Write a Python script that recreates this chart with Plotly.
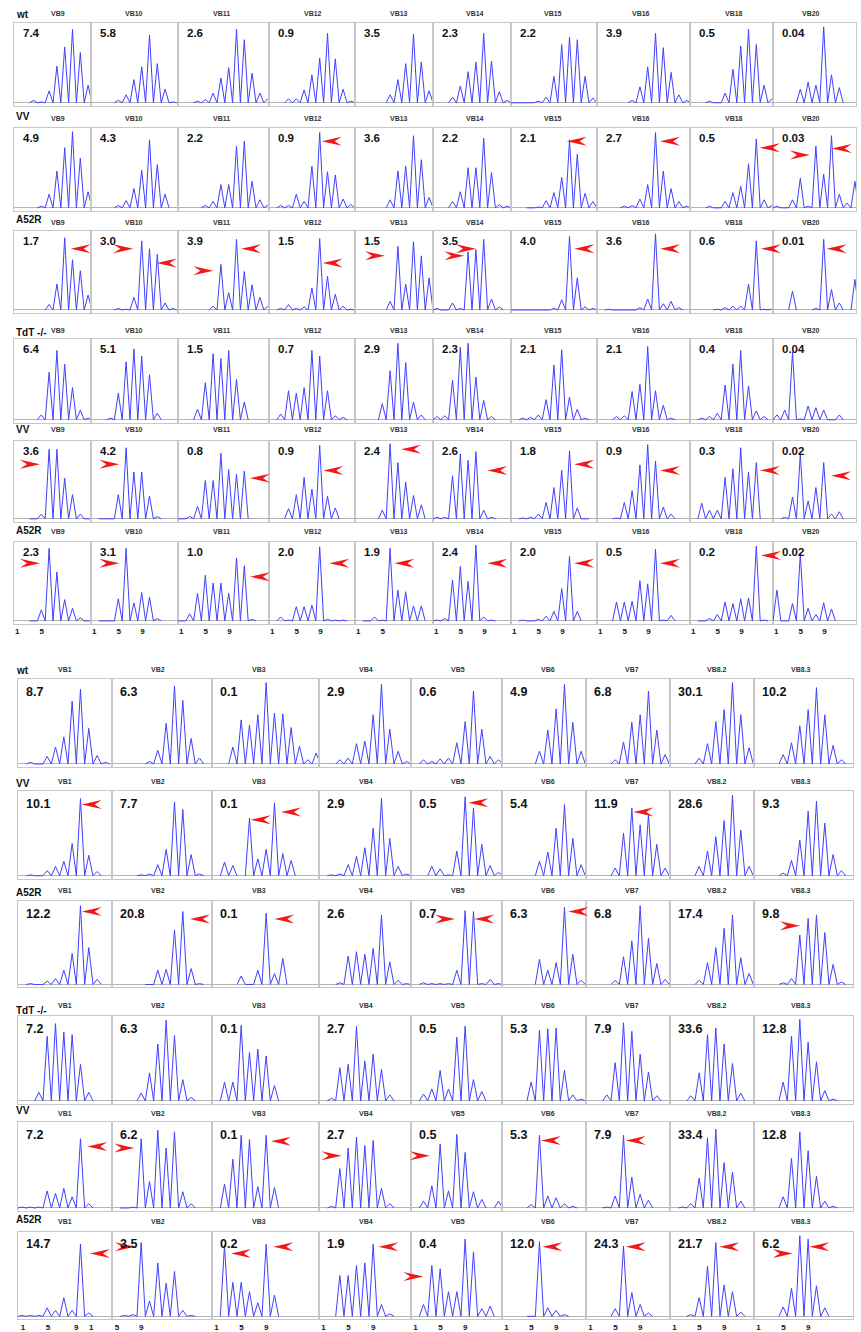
import plotly.graph_objects as go

W, H = 861, 1332

# ---------------- labels ----------------
TOP_VB = ["VB9", "VB10", "VB11", "VB12", "VB13", "VB14", "VB15", "VB16", "VB18", "VB20"]
BOTTOM_VB = ["VB1", "VB2", "VB3", "VB4", "VB5", "VB6", "VB7", "VB8.2", "VB8.3"]
ROW_NAMES = ["wt", "VV", "A52R", "TdT -/-", "VV", "A52R"]

# ---------------- percentages ----------------
top_wt_pct = ["7.4", "5.8", "2.6", "0.9", "3.5", "2.3", "2.2", "3.9", "0.5", "0.04"]
top_vv_pct = ["4.9", "4.3", "2.2", "0.9", "3.6", "2.2", "2.1", "2.7", "0.5", "0.03"]
top_a52r_pct = ["1.7", "3.0", "3.9", "1.5", "1.5", "3.5", "4.0", "3.6", "0.6", "0.01"]
top_tdt_pct = ["6.4", "5.1", "1.5", "0.7", "2.9", "2.3", "2.1", "2.1", "0.4", "0.04"]
top_tdt_vv_pct = ["3.6", "4.2", "0.8", "0.9", "2.4", "2.6", "1.8", "0.9", "0.3", "0.02"]
top_tdt_a52r_pct = ["2.3", "3.1", "1.0", "2.0", "1.9", "2.4", "2.0", "0.5", "0.2", "0.02"]

bot_wt_pct = ["8.7", "6.3", "0.1", "2.9", "0.6", "4.9", "6.8", "30.1", "10.2"]
bot_vv_pct = ["10.1", "7.7", "0.1", "2.9", "0.5", "5.4", "11.9", "28.6", "9.3"]
bot_a52r_pct = ["12.2", "20.8", "0.1", "2.6", "0.7", "6.3", "6.8", "17.4", "9.8"]
bot_tdt_pct = ["7.2", "6.3", "0.1", "2.7", "0.5", "5.3", "7.9", "33.6", "12.8"]
bot_tdt_vv_pct = ["7.2", "6.2", "0.1", "2.7", "0.5", "5.3", "7.9", "33.4", "12.8"]
bot_tdt_a52r_pct = ["14.7", "3.5", "0.2", "1.9", "0.4", "12.0", "24.3", "21.7", "6.2"]

# ---------------- spectratype peak heights (fraction of panel height, per CDR3 slot) ----------------
N = None
top_wt_peaks = [
    [N, N, 0.03, 0.01, 0.15, 0.46, 0.70, 0.92, 0.63, 0.22],
    [N, N, N, 0.03, 0.10, 0.29, 0.45, 0.85, 0.49, 0.17, 0.01],
    [N, N, 0.02, 0.04, 0.12, 0.31, 0.44, 0.92, 0.79, 0.37, 0.12, 0.05],
    [N, N, 0.05, 0.05, 0.16, 0.35, 0.56, 0.87, 0.55, 0.17, 0.02],
    [N, N, N, N, 0.10, 0.29, 0.49, 0.86, 0.51, 0.15],
    [N, N, 0.07, 0.21, 0.39, 0.51, 0.87, 0.52, 0.14, 0.03],
    [0, 0, 0, 0.02, 0.07, 0.33, 0.73, 0.82, 0.79, 0.33, 0.06],
    [N, N, N, N, 0.03, 0.20, 0.45, 0.87, 0.69, 0.38, 0.10, 0.03],
    [N, N, 0.02, 0, 0.12, 0.42, 0.71, 0.92, 0.73, 0.22, 0.05],
    [N, N, N, 0.17, 0.26, 0.22, 0.95, 0.35, 0.19],
]
top_vv_peaks = [
    [N, N, N, 0.02, 0.17, 0.46, 0.75, 0.95, 0.62, 0.20],
    [N, N, N, 0.03, 0.09, 0.24, 0.47, 0.85, 0.54, 0.17],
    [N, N, N, 0.03, 0.08, 0.29, 0.29, 0.77, 0.83, 0.33, 0.10, 0.03],
    [N, 0.03, 0.03, 0.17, 0.08, 0.52, 0.94, 0.45, 0.41, 0.11, 0.04],
    [N, N, N, N, 0.10, 0.46, 0.52, 0.90, 0.60, 0.13],
    [N, N, 0.08, 0.20, 0.50, 0.50, 0.87, 0.44, 0.04, 0.02],
    [N, N, 0, 0.01, 0.09, 0.19, 0.38, 0.85, 0.67, 0.18, 0.08],
    [N, N, N, 0.02, 0.03, 0.11, 0.29, 0.94, 0.46, 0.24, 0.08, 0.02],
    [N, N, 0.02, 0, 0.08, 0.19, 0.27, 0.55, 0.86, 0.10, 0.03],
    [0.02, 0, 0.10, 0.37, 0.02, 0.77, 0.42, 0.90, 0.17, 0.06, 0.33],
]
top_a52r_peaks = [
    [N, N, N, N, 0.07, 0.33, 0.92, 0.64, 0.50, 0.19],
    [N, N, N, 0.02, 0.01, 0.16, 0.88, 0.78, 0.71, 0.09, 0.02],
    [N, N, N, N, 0.05, 0.58, 0.22, 0.90, 0.49, 0.32, 0.16, 0.05],
    [N, 0.02, 0.07, 0.02, 0.04, 0.28, 0.91, 0.43, 0.20, 0.05, 0.01],
    [N, N, N, N, 0.11, 0.81, 0.33, 0.87, 0.69, 0.41],
    [0.02, 0, 0.09, 0.02, 0.74, 0.77, 0.90, 0.14, 0.04],
    [0, 0, 0, 0, 0, 0.02, 0.13, 0.94, 0.41, 0.04, 0.02],
    [N, 0.01, 0, 0, 0, 0.03, 0.14, 0.97, 0.08, 0.11, 0.03],
    [N, N, N, 0.01, 0.03, 0.05, 0.05, 0.33, 0.88, 0.01, 0.01],
    [N, N, 0.24, N, N, 0.02, 0.90, 0.26, 0.09, N, 0.39],
]
top_tdt_peaks = [
    [N, N, N, 0.06, 0.59, 0.86, 0.69, 0.40, 0.12, 0.02],
    [N, N, 0.02, 0.33, 0.72, 0.88, 0.79, 0.56, 0.08],
    [N, N, 0.13, 0.46, 0.82, 0.76, 0.86, 0.50, 0.22],
    [N, 0.07, 0.36, 0.33, 0.40, 0.86, 0.79, 0.36, 0.05, 0.03],
    [N, N, N, 0.20, 0.61, 0.95, 0.71, 0.22, 0.06],
    [0.04, 0.05, 0.49, 0.90, 0.95, 0.53, 0.24, 0.04],
    [N, 0.02, 0.03, 0.06, 0.25, 0.68, 0.87, 0.28, 0.13, 0.02],
    [N, N, 0.04, 0.05, 0.35, 0.44, 0.91, 0.36, 0.18, 0.02],
    [N, 0.02, 0.04, 0.08, 0.43, 0.69, 0.86, 0.42, 0.11, 0.04],
    [0.06, 0.12, 0.84, 0.01, 0.17, 0.15, 0.12, 0, 0.06],
]
top_tdt_vv_peaks = [
    [N, N, 0, 0.06, 0.89, 0.89, 0.52, 0.31, 0.06, 0],
    [N, 0, 0, 0.31, 0.91, 0.60, 0.60, 0.29, 0.03],
    [0, 0.03, 0.16, 0.49, 0.49, 0.84, 0.63, 0.57, 0.61],
    [N, N, 0.13, 0.31, 0.53, 0.38, 0.94, 0.29, 0.14],
    [N, N, N, 0.11, 0.96, 0.72, 0.47, 0.30, 0.18],
    [0.02, 0.02, 0.55, 0.83, 0.75, 0.86, 0.11, 0.02],
    [N, 0.01, 0.02, 0.06, 0.21, 0.40, 0.62, 0.87, 0.14, 0],
    [N, N, 0.01, 0.21, 0.36, 0.69, 0.95, 0.74, 0.15, 0.06],
    [N, 0.20, 0.11, 0.11, 0.53, 0.64, 0.91, 0.60, 0.72],
    [N, 0.02, 0.28, 0.83, 0.23, 0.40, 0.72, 0.06, 0.09],
]
top_tdt_a52r_peaks = [
    [N, N, 0, 0.14, 0.92, 0.62, 0.27, 0.16, 0.04, 0],
    [N, 0, 0, 0.28, 0.92, 0.23, 0.36, 0.30, 0.03],
    [0, 0.09, 0.35, 0.58, 0.48, 0.48, 0.35, 0.80, 0.70, 0.02],
    [N, 0.05, 0.01, 0.18, 0.18, 0.20, 0.94, 0.02, 0.01, 0.01],
    [N, 0, 0.05, 0.01, 0.92, 0.39, 0.37, 0.19, 0.19],
    [0.01, 0.03, 0.52, 0.69, 0.50, 0.96, 0.05, 0.01],
    [N, 0.01, 0, 0.02, 0.06, 0.12, 0.41, 0.82, 0.12],
    [N, N, 0.24, 0.24, 0.25, 0.51, 0.47, 0.91, 0.01, 0.07],
    [N, 0, 0.03, 0.08, 0.24, 0.22, 0.28, 0.29, 0.95, 0.01],
    [0.39, 0, 0.22, 0.85, 0.16, 0.08, 0.23, 0.15],
]

bot_wt_peaks = [
    [N, 0.02, 0, 0.09, 0.20, 0.32, 0.74, 0.88, 0.42, 0.10, 0.02],
    [N, N, N, N, 0.03, 0.16, 0.48, 0.92, 0.75, 0.30, 0.07],
    [N, N, 0.20, 0.52, 0.46, 0.58, 0.96, 0.60, 0.59, 0.43, 0.21, 0.05, 0.13],
    [N, N, 0.05, 0.07, 0.24, 0.27, 0.58, 0.94, 0.41, 0.15, 0.03],
    [N, 0.05, 0.03, 0.06, 0.07, 0.25, 0.50, 0.86, 0.41, 0.09, 0.05],
    [N, N, N, N, 0.15, 0.40, 0.65, 0.94, 0.49, 0.15],
    [N, N, N, 0.05, 0.26, 0.49, 0.58, 0.86, 0.40, 0.11],
    [N, N, N, 0.07, 0.24, 0.50, 0.64, 0.96, 0.58, 0.19, 0.05],
    [N, N, N, 0.11, 0.25, 0.45, 0.64, 0.90, 0.58, 0.22, 0.05],
]
bot_vv_peaks = [
    [N, 0.01, 0, 0.06, 0.11, 0.17, 0.38, 0.91, 0.24, 0.05],
    [N, N, N, 0.01, 0.02, 0.13, 0.31, 0.87, 0.78, 0.25, 0.02],
    [N, 0.16, 0.12, N, 0.68, 0.20, 0.31, 0.86, 0.26, 0.18],
    [N, 0.01, 0.02, 0.13, 0.23, 0.33, 0.56, 0.91, 0.44, 0.11, 0.02],
    [N, N, 0.11, 0.08, 0.01, 0.29, 0.93, 0.80, 0.37, 0.12, 0.04],
    [N, N, N, N, 0.17, 0.28, 0.56, 0.84, 0.44, 0.13],
    [N, N, N, 0.09, 0.50, 0.80, 0.60, 0.72, 0.37, 0.09],
    [N, N, N, 0.11, 0.29, 0.46, 0.65, 0.95, 0.54, 0.11, 0.03],
    [N, N, N, 0.03, 0.18, 0.42, 0.76, 0.88, 0.62, 0.25, 0.06],
]
bot_a52r_peaks = [
    [N, 0.01, 0, 0.04, 0.07, 0.17, 0.37, 0.94, 0.44, 0.06],
    [N, N, N, N, 0, 0.17, 0.18, 0.65, 0.87, 0.19, 0.01],
    [N, N, N, 0.10, 0, 0.17, 0.85, 0.13, 0.31],
    [N, N, 0.02, 0.34, 0.39, 0.36, 0.43, 0.83, 0.27, 0.05, 0.01],
    [N, 0.02, 0.01, 0.01, 0.01, 0.17, 0.88, 0.87, 0.01, 0.06, 0.01],
    [N, N, N, N, 0.30, 0.17, 0.26, 0.92, 0.36, 0.05],
    [N, N, N, 0.05, 0.33, 0.52, 0.94, 0.55, 0.25, 0.06],
    [N, N, N, 0.05, 0.26, 0.44, 0.67, 0.83, 0.32, 0.13, 0.02],
    [N, N, N, 0.02, 0.07, 0.59, 0.79, 0.83, 0.62, 0.24, 0.03],
]
bot_tdt_peaks = [
    [N, N, 0.10, 0.76, 0.91, 0.81, 0.78, 0.43, 0.10],
    [N, N, N, 0.09, 0.33, 0.67, 0.95, 0.77, 0.25, 0.04],
    [N, 0.22, 0.22, 0.89, 0.57, 0.61, 0.53, 0.18],
    [N, 0.03, 0.39, 0.43, 0.88, 0.47, 0.55, 0.37, 0.07],
    [N, 0.08, 0.14, 0.36, 0.14, 0.75, 0.88, 0.25, 0.11],
    [N, N, N, 0.22, 0.83, 0.85, 0.86, 0.36, 0.07, 0.02],
    [N, N, 0.07, 0.45, 0.92, 0.82, 0.55, 0.34, 0.06],
    [N, N, 0.06, 0.33, 0.78, 0.86, 0.67, 0.44, 0.09],
    [N, N, N, 0.22, 0.76, 0.96, 0.69, 0.46, 0.12, 0.02],
]
bot_tdt_vv_peaks = [
    [0.01, 0.01, 0.01, 0.20, 0.17, 0.23, 0.13, 0.81, 0.05],
    [N, 0, 0.01, 0.81, 0.31, 0.91, 0.70, 0.89, 0.19, 0.05],
    [N, 0.28, 0.57, 0.85, 0.80, 0.25, 0.85, 0.24],
    [N, 0.02, 0.46, 0.70, 0.83, 0.73, 0.79, 0.23, 0.05],
    [N, 0.08, 0.26, 0.75, 0.20, 0.86, 0.65, 0.19, 0.10, N, 0.08],
    [N, N, N, 0.04, 0.85, 0.14, 0.12, 0.05, 0.02],
    [N, N, 0.01, 0.14, 0.85, 0.36, 0.16, 0.09],
    [N, 0.01, 0.05, 0.35, 0.82, 0.92, 0.53, 0.42, 0.08],
    [N, N, N, 0.13, 0.58, 0.89, 0.67, 0.37, 0.08, 0.02],
]
bot_tdt_a52r_peaks = [
    [0.01, 0.01, 0.01, 0.10, 0.07, 0.22, 0.07, 0.85, 0.04],
    [N, 0.01, 0.02, 0.87, 0.18, 0.63, 0.39, 0.53, 0.07, 0.01],
    [N, 0.84, 0.40, 0.40, 0.29, 0.16, 0.85, 0.25],
    [N, N, 0.48, 0.48, 0.60, 0.63, 0.85, 0.14, 0.03],
    [N, 0.14, 0.60, 0.56, 0.29, 0.29, 0.91, 0.76, 0.09, 0.12],
    [N, N, N, 0, 0.88, 0.10, 0.07, 0.02],
    [N, N, N, 0.09, 0.83, 0.28, 0.14, 0.04],
    [N, N, 0.02, 0.22, 0.59, 0.87, 0.37, 0.29, 0.05],
    [N, N, N, 0.11, 0.33, 0.95, 0.91, 0.36, 0.10],
]

# red arrowheads: (block, row, column, direction, CDR3 slot, height fraction)
arrow_marks = [
    (0, 1, 3, "L", 6.26, 0.83), (0, 1, 6, "L", 6.64, 0.83), (0, 1, 7, "L", 7.58, 0.83),
    (0, 1, 8, "L", 8.47, 0.75), (0, 1, 9, "R", 4.24, 0.66), (0, 1, 9, "L", 7.03, 0.74),
    (0, 2, 0, "L", 6.77, 0.78), (0, 2, 1, "R", 4.92, 0.78), (0, 2, 1, "L", 7.92, 0.60),
    (0, 2, 2, "R", 4.03, 0.50), (0, 2, 2, "L", 7.58, 0.78), (0, 2, 3, "L", 6.38, 0.60),
    (0, 2, 4, "R", 3.35, 0.69), (0, 2, 5, "R", 5.01, 0.78), (0, 2, 5, "R", 3.51, 0.69),
    (0, 2, 6, "L", 7.62, 0.78), (0, 2, 7, "L", 7.58, 0.78), (0, 2, 8, "L", 8.60, 0.78),
    (0, 2, 9, "L", 6.38, 0.78),
    (0, 4, 0, "R", 2.83, 0.70), (0, 4, 1, "R", 3.13, 0.70), (0, 4, 2, "L", 8.73, 0.52),
    (0, 4, 3, "L", 6.46, 0.62), (0, 4, 4, "L", 5.40, 0.89), (0, 4, 5, "L", 6.46, 0.62),
    (0, 4, 6, "L", 7.58, 0.70), (0, 4, 7, "L", 7.58, 0.62), (0, 4, 8, "L", 8.47, 0.62),
    (0, 4, 9, "L", 6.94, 0.55),
    (0, 5, 0, "R", 2.83, 0.73), (0, 5, 1, "R", 3.13, 0.73), (0, 5, 2, "L", 8.73, 0.56),
    (0, 5, 3, "L", 7.23, 0.73), (0, 5, 4, "L", 4.54, 0.73), (0, 5, 5, "L", 6.46, 0.73),
    (0, 5, 6, "L", 7.58, 0.73), (0, 5, 7, "L", 7.58, 0.73), (0, 5, 8, "L", 8.60, 0.83),
    (1, 1, 0, "L", 7.15, 0.84), (1, 1, 2, "L", 4.15, 0.66), (1, 1, 2, "L", 7.78, 0.75),
    (1, 1, 4, "L", 6.38, 0.86), (1, 1, 6, "L", 5.18, 0.75),
    (1, 2, 0, "L", 7.15, 0.87), (1, 2, 1, "L", 8.86, 0.78), (1, 2, 2, "L", 6.98, 0.78),
    (1, 2, 4, "R", 4.78, 0.78), (1, 2, 4, "L", 7.10, 0.78), (1, 2, 5, "L", 7.46, 0.87),
    (1, 2, 8, "R", 5.02, 0.70),
    (1, 4, 0, "L", 7.82, 0.72), (1, 4, 1, "R", 2.18, 0.70), (1, 4, 2, "L", 6.58, 0.78),
    (1, 4, 3, "R", 2.22, 0.61), (1, 4, 4, "R", 1.78, 0.61), (1, 4, 5, "L", 4.18, 0.79),
    (1, 4, 6, "L", 4.27, 0.79),
    (1, 5, 0, "L", 8.14, 0.74), (1, 5, 1, "R", 2.26, 0.82), (1, 5, 2, "L", 1.78, 0.74),
    (1, 5, 2, "L", 6.86, 0.82), (1, 5, 3, "L", 6.62, 0.82), (1, 5, 4, "R", 0.98, 0.47),
    (1, 5, 5, "L", 4.34, 0.82), (1, 5, 6, "L", 4.27, 0.82), (1, 5, 7, "L", 5.42, 0.82),
    (1, 5, 8, "R", 4.15, 0.74), (1, 5, 8, "L", 6.14, 0.82),
]

# axis tick labels of the last row of each block (label, slot position)
top_ticks_short = [("1", 0.4), ("5", 3.55)]
top_ticks = [("1", 0.4), ("5", 3.55), ("9", 6.6)]
top_tick_sets = [top_ticks_short, top_ticks, top_ticks, top_ticks, top_ticks_short,
                 top_ticks, top_ticks, top_ticks, top_ticks, top_ticks]
bot_ticks = [("1", 0.55), ("5", 3.55), ("9", 6.5)]
bot_tick_sets = [[("1", 0.6), ("5", 3.6), ("9", 7.0), ("1", 8.8)], [("5", 0.6), ("9", 3.5)],
                 bot_ticks, bot_ticks, bot_ticks, bot_ticks, bot_ticks, bot_ticks, bot_ticks]

# ---------------- geometry of the composite (pixels) ----------------
TOP_EDGES = [14, 91, 178, 269, 355, 433, 511, 597, 690, 773, 856]
BOT_EDGES = [18, 112, 212, 319, 411, 502, 586, 670, 754, 853]
TOP_VB_X = [57.7, 134, 221, 312.7, 399, 475, 553, 641, 734, 811]
BOT_VB_X = [65, 158, 259, 365.7, 457.7, 548, 632, 716.7, 801]
TOP_ROWS = [(23, 103), (128, 208.3), (232, 310.7), (340, 420.7), (441.7, 520), (543.3, 622.3)]
BOT_ROWS = [(680.7, 765.7), (792.7, 877.7), (902.7, 986.7), (1018.3, 1103.3), (1125, 1210.7), (1234.3, 1319.3)]
TOP_NAME_Y = [15, 117, 220, 333, 430, 532]
TOP_VB_Y = [14, 119, 223, 331, 430, 533]
BOT_NAME_Y = [672, 785, 895, 1013, 1113, 1222]
BOT_VB_Y = [671, 783, 893, 1008, 1116, 1224]

FONT = "Liberation Sans, Arial, sans-serif"
BLUE = "#4040ff"
BOX = "#c8c8c8"
YLO = -0.035

blocks = [
    dict(edges=TOP_EDGES, rows=TOP_ROWS, vbs=TOP_VB, vb_x=TOP_VB_X, sp=7.8, name_y=TOP_NAME_Y,
         vb_y=TOP_VB_Y, ticks=top_tick_sets, num_dx=7, num_dy=10, num_size=11.5,
         data=[(top_wt_peaks, top_wt_pct), (top_vv_peaks, top_vv_pct), (top_a52r_peaks, top_a52r_pct),
               (top_tdt_peaks, top_tdt_pct), (top_tdt_vv_peaks, top_tdt_vv_pct),
               (top_tdt_a52r_peaks, top_tdt_a52r_pct)]),
    dict(edges=BOT_EDGES, rows=BOT_ROWS, vbs=BOTTOM_VB, vb_x=BOT_VB_X, sp=8.33, name_y=BOT_NAME_Y,
         vb_y=BOT_VB_Y, ticks=bot_tick_sets, num_dx=6, num_dy=13, num_size=12.5,
         data=[(bot_wt_peaks, bot_wt_pct), (bot_vv_peaks, bot_vv_pct), (bot_a52r_peaks, bot_a52r_pct),
               (bot_tdt_peaks, bot_tdt_pct), (bot_tdt_vv_peaks, bot_tdt_vv_pct),
               (bot_tdt_a52r_peaks, bot_tdt_a52r_pct)]),
]


def profile_xy(heights):
    xs, ys = [], []
    prev = False
    for k, h in enumerate(heights):
        if h is None:
            if prev:
                xs.append(None)
                ys.append(None)
            prev = False
            continue
        if not prev:
            xs.append(k)
            ys.append(0)
        xs += [k + 0.5, k + 1]
        ys += [h, 0]
        prev = True
    return xs, ys


fig = go.Figure()
layout = {}
annotations = []
shapes = []
ax = 0
for b in blocks:
    edges, rows, sp = b["edges"], b["rows"], b["sp"]
    nrows = len(rows)
    for r, (top, base) in enumerate(rows):
        peaks_row, pct_row = b["data"][r]
        bottom_px = base - YLO * (base - top)
        for c, vb in enumerate(b["vbs"]):
            ax += 1
            l, rr = edges[c], edges[c + 1]
            xs, ys = profile_xy(peaks_row[c])
            xn = "x" if ax == 1 else f"x{ax}"
            yn = "y" if ax == 1 else f"y{ax}"
            fig.add_trace(go.Scatter(x=xs, y=ys, mode="lines", xaxis=xn, yaxis=yn,
                                     line=dict(color=BLUE, width=1.0), hoverinfo="skip",
                                     showlegend=False))
            xa = dict(domain=[l / W, rr / W], range=[0, (rr - l) / sp], anchor=yn,
                      showgrid=False, zeroline=False, showline=True, mirror=True,
                      linecolor=BOX, linewidth=1, ticks="", fixedrange=True,
                      showticklabels=False)
            if r == nrows - 1:
                tk = b["ticks"][c]
                xa.update(showticklabels=True, tickvals=[p for _, p in tk],
                          ticktext=[f"<b>{t}</b>" for t, _ in tk],
                          tickfont=dict(family=FONT, size=8, color="#111"), tickangle=0)
            ya = dict(domain=[1 - bottom_px / H, 1 - top / H], range=[YLO, 1.0], anchor=xn,
                      showgrid=False, zeroline=True, zerolinecolor="#b4b4b4", zerolinewidth=1,
                      showline=True, mirror=True, linecolor=BOX, linewidth=1,
                      showticklabels=False, ticks="", fixedrange=True)
            layout["xaxis" if ax == 1 else f"xaxis{ax}"] = xa
            layout["yaxis" if ax == 1 else f"yaxis{ax}"] = ya
            # percentage
            annotations.append(dict(x=(l + b["num_dx"]) / W, y=1 - (top + b["num_dy"]) / H,
                                    xref="paper", yref="paper", xanchor="left", yanchor="middle",
                                    text=f"<b>{pct_row[c]}</b>", showarrow=False,
                                    font=dict(family=FONT, size=b["num_size"], color="#111")))
            # VB label
            annotations.append(dict(x=b["vb_x"][c] / W, y=1 - b["vb_y"][r] / H,
                                    xref="paper", yref="paper", xanchor="center", yanchor="middle",
                                    text=f"<b>{vb}</b>", showarrow=False,
                                    font=dict(family=FONT, size=7, color="#333")))
        annotations.append(dict(x=14 / W, y=1 - b["name_y"][r] / H, xref="paper", yref="paper",
                                xanchor="left", yanchor="middle", text=f"<b>{ROW_NAMES[r]}</b>",
                                showarrow=False, font=dict(family=FONT, size=10, color="#111")))

for (bi, r, c, d, slot, hgt) in arrow_marks:
    b = blocks[bi]
    l = b["edges"][c]
    top, base = b["rows"][r]
    xpx = l + (slot + 0.5) * b["sp"]
    ypx = base - hgt * (base - top)
    path = "M0,0 L20,4.5 L13,0 L20,-4.5 Z" if d == "L" else "M0,0 L-20,4.5 L-13,0 L-20,-4.5 Z"
    shapes.append(dict(type="path", xref="paper", yref="paper", xsizemode="pixel",
                       ysizemode="pixel", xanchor=xpx / W, yanchor=1 - ypx / H, path=path,
                       fillcolor="#f21818", line=dict(width=0), layer="above"))

fig.update_layout(width=W, height=H, margin=dict(l=0, r=0, t=0, b=0),
                  paper_bgcolor="white", plot_bgcolor="white", showlegend=False,
                  annotations=annotations, shapes=shapes, **layout)
fig.write_html("out.html")
